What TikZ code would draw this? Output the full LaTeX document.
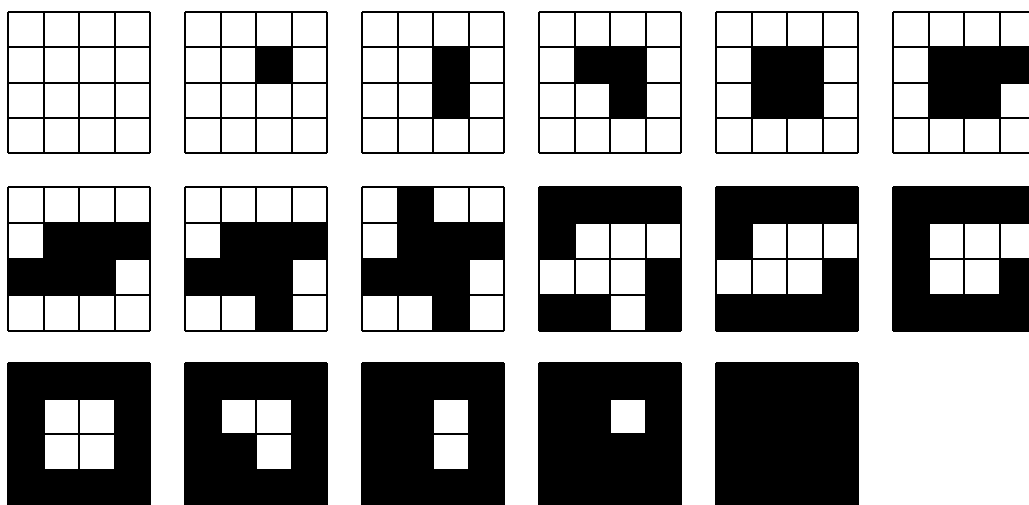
\documentclass[tikz,border=0pt]{standalone}
\tikzset{gridline/.style={draw=black,line width=2pt},
  cellfill/.style={fill=#1}}
\newcommand{\dgcells}[5]{% x, y, cell height, colour, list c/r
  \foreach \c/\r in {#5} {\fill[cellfill=#4] ({#1+\c*35.5},{#2+\r*#3}) rectangle ++(35.5,#3);}}
\newcommand{\dgbg}[3]{\fill[black] (#1,#2) rectangle ++(142,{4*#3});}
\newcommand{\dglines}[3]{%
  \foreach \i in {0,...,4} {
    \draw[gridline] ({#1+\i*35.5},#2) -- ++(0,{4*#3});
    \draw[gridline] (#1,{#2+\i*#3}) -- ++(142,0);}}
\begin{document}
\begin{tikzpicture}[x=1pt,y=-1pt]
\useasboundingbox (0,0) rectangle (1029,505);
\clip (0,0) rectangle (1029,505);
\fill[white] (0,0) rectangle (1029,505);
% row 1
\dglines{8}{12}{35.3}
\dgcells{185}{12}{35.3}{black}{2/1}\dglines{185}{12}{35.3}
\dgcells{362}{12}{35.3}{black}{2/1,2/2}\dglines{362}{12}{35.3}
\dgcells{539}{12}{35.3}{black}{1/1,2/1,2/2}\dglines{539}{12}{35.3}
\dgcells{716}{12}{35.3}{black}{1/1,2/1,1/2,2/2}\dglines{716}{12}{35.3}
\dgcells{893}{12}{35.3}{black}{1/1,2/1,3/1,1/2,2/2}\dglines{893}{12}{35.3}
% row 2
\dgcells{8}{187}{36}{black}{1/1,2/1,3/1,0/2,1/2,2/2}\dglines{8}{187}{36}
\dgcells{185}{187}{36}{black}{1/1,2/1,3/1,0/2,1/2,2/2,2/3}\dglines{185}{187}{36}
\dgcells{362}{187}{36}{black}{1/0,1/1,2/1,3/1,0/2,1/2,2/2,2/3}\dglines{362}{187}{36}
\dgbg{539}{187}{36}\dgcells{539}{187}{36}{white}{1/1,2/1,3/1,0/2,1/2,2/2,2/3}\dglines{539}{187}{36}
\dgbg{716}{187}{36}\dgcells{716}{187}{36}{white}{1/1,2/1,3/1,0/2,1/2,2/2}\dglines{716}{187}{36}
\dgbg{893}{187}{36}\dgcells{893}{187}{36}{white}{1/1,2/1,3/1,1/2,2/2}\dglines{893}{187}{36}
% row 3
\dgbg{8}{363}{35.5}\dgcells{8}{363}{35.5}{white}{1/1,2/1,1/2,2/2}\dglines{8}{363}{35.5}
\dgbg{185}{363}{35.5}\dgcells{185}{363}{35.5}{white}{1/1,2/1,2/2}\dglines{185}{363}{35.5}
\dgbg{362}{363}{35.5}\dgcells{362}{363}{35.5}{white}{2/1,2/2}\dglines{362}{363}{35.5}
\dgbg{539}{363}{35.5}\dgcells{539}{363}{35.5}{white}{2/1}\dglines{539}{363}{35.5}
\dgbg{716}{363}{35.5}\dglines{716}{363}{35.5}
\end{tikzpicture}
\end{document}
